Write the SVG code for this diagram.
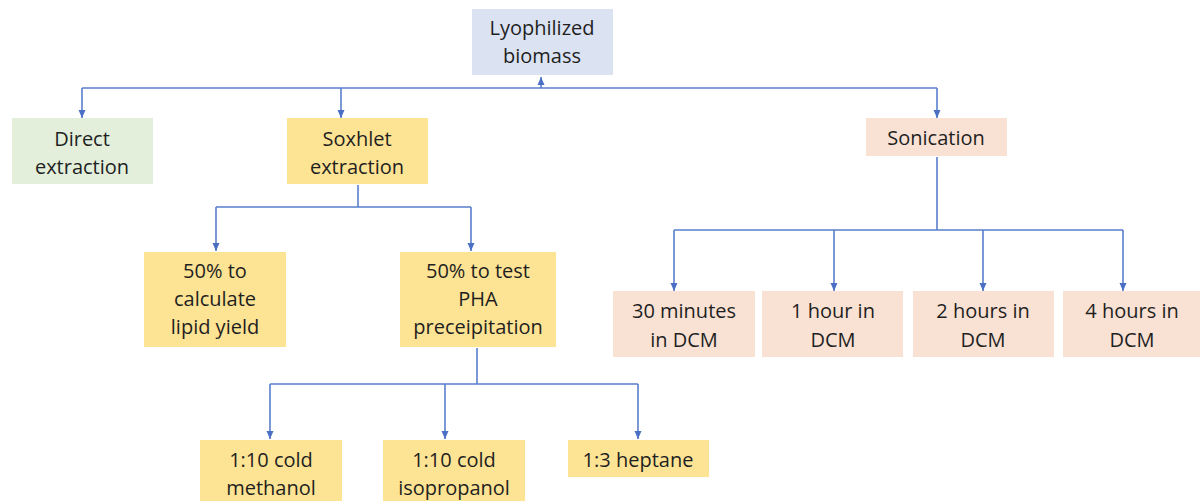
<svg xmlns="http://www.w3.org/2000/svg" width="1200" height="501" viewBox="0 0 1200 501">
<defs>
<marker id="ah" viewBox="0 0 8 8" refX="8" refY="4" markerWidth="8" markerHeight="8" markerUnits="userSpaceOnUse" orient="auto">
<path d="M0,0.5 L8,4 L0,7.5 z" fill="#4a6fc4"/>
</marker>
<style>
.c{fill:none;stroke:#5a7fcc;stroke-width:1.6}
.t{font-family:"Open Sans","Liberation Sans",sans-serif;font-size:20px;fill:#1f1f1f;text-anchor:middle}
.blue{fill:#dbe2f2}
.green{fill:#e3efdb}
.yel{fill:#fde394}
.peach{fill:#f9e2d4}
</style>
</defs>
<rect width="1200" height="501" fill="#ffffff"/>
<g id="connectors">
<path class="c" d="M541,88 V77" marker-end="url(#ah)"/>
<path class="c" d="M82,88 H937"/>
<path class="c" d="M82,88 V118" marker-end="url(#ah)"/>
<path class="c" d="M341,88 V118" marker-end="url(#ah)"/>
<path class="c" d="M937,88 V118" marker-end="url(#ah)"/>
<path class="c" d="M358,185 V207 M216,207 H471"/>
<path class="c" d="M216,207 V251" marker-end="url(#ah)"/>
<path class="c" d="M471,207 V251" marker-end="url(#ah)"/>
<path class="c" d="M937,157 V230 M674,230 H1123"/>
<path class="c" d="M674,230 V291" marker-end="url(#ah)"/>
<path class="c" d="M834,230 V291" marker-end="url(#ah)"/>
<path class="c" d="M983,230 V291" marker-end="url(#ah)"/>
<path class="c" d="M1123,230 V291" marker-end="url(#ah)"/>
<path class="c" d="M477,348 V384 M270,384 H638"/>
<path class="c" d="M270,384 V439" marker-end="url(#ah)"/>
<path class="c" d="M445,384 V439" marker-end="url(#ah)"/>
<path class="c" d="M638,384 V439" marker-end="url(#ah)"/>
</g>
<g id="lyophilized">
<rect class="blue" x="472" y="9" width="141" height="66"/>
<text class="t" x="542" y="35">Lyophilized</text>
<text class="t" x="542" y="63">biomass</text>
</g>
<g id="direct">
<rect class="green" x="12" y="118" width="141" height="66"/>
<text class="t" x="82" y="146">Direct</text>
<text class="t" x="82" y="174">extraction</text>
</g>
<g id="soxhlet">
<rect class="yel" x="287" y="118" width="141" height="66"/>
<text class="t" x="357" y="146">Soxhlet</text>
<text class="t" x="357" y="174">extraction</text>
</g>
<g id="sonication">
<rect class="peach" x="866" y="118" width="141" height="38"/>
<text class="t" x="936" y="145">Sonication</text>
</g>
<g id="lipid">
<rect class="yel" x="144" y="252" width="142" height="95"/>
<text class="t" x="215" y="278">50% to</text>
<text class="t" x="215" y="306">calculate</text>
<text class="t" x="215" y="334">lipid yield</text>
</g>
<g id="pha">
<rect class="yel" x="400" y="252" width="156" height="95"/>
<text class="t" x="478" y="278">50% to test</text>
<text class="t" x="478" y="306">PHA</text>
<text class="t" x="478" y="334">preceipitation</text>
</g>
<g id="min30">
<rect class="peach" x="613" y="291" width="142" height="66"/>
<text class="t" x="684" y="318">30 minutes</text>
<text class="t" x="684" y="347">in DCM</text>
</g>
<g id="hr1">
<rect class="peach" x="762" y="291" width="141" height="66"/>
<text class="t" x="833" y="318">1 hour in</text>
<text class="t" x="833" y="347">DCM</text>
</g>
<g id="hr2">
<rect class="peach" x="913" y="291" width="141" height="66"/>
<text class="t" x="983" y="318">2 hours in</text>
<text class="t" x="983" y="347">DCM</text>
</g>
<g id="hr4">
<rect class="peach" x="1063" y="291" width="141" height="66"/>
<text class="t" x="1132" y="318">4 hours in</text>
<text class="t" x="1132" y="347">DCM</text>
</g>
<g id="methanol">
<rect class="yel" x="200" y="440" width="142" height="70"/>
<text class="t" x="271" y="467">1:10 cold</text>
<text class="t" x="271" y="495">methanol</text>
</g>
<g id="isopropanol">
<rect class="yel" x="383" y="440" width="142" height="70"/>
<text class="t" x="454" y="467">1:10 cold</text>
<text class="t" x="454" y="495">isopropanol</text>
</g>
<g id="heptane">
<rect class="yel" x="568" y="440" width="141" height="37"/>
<text class="t" x="638" y="467">1:3 heptane</text>
</g>
</svg>
